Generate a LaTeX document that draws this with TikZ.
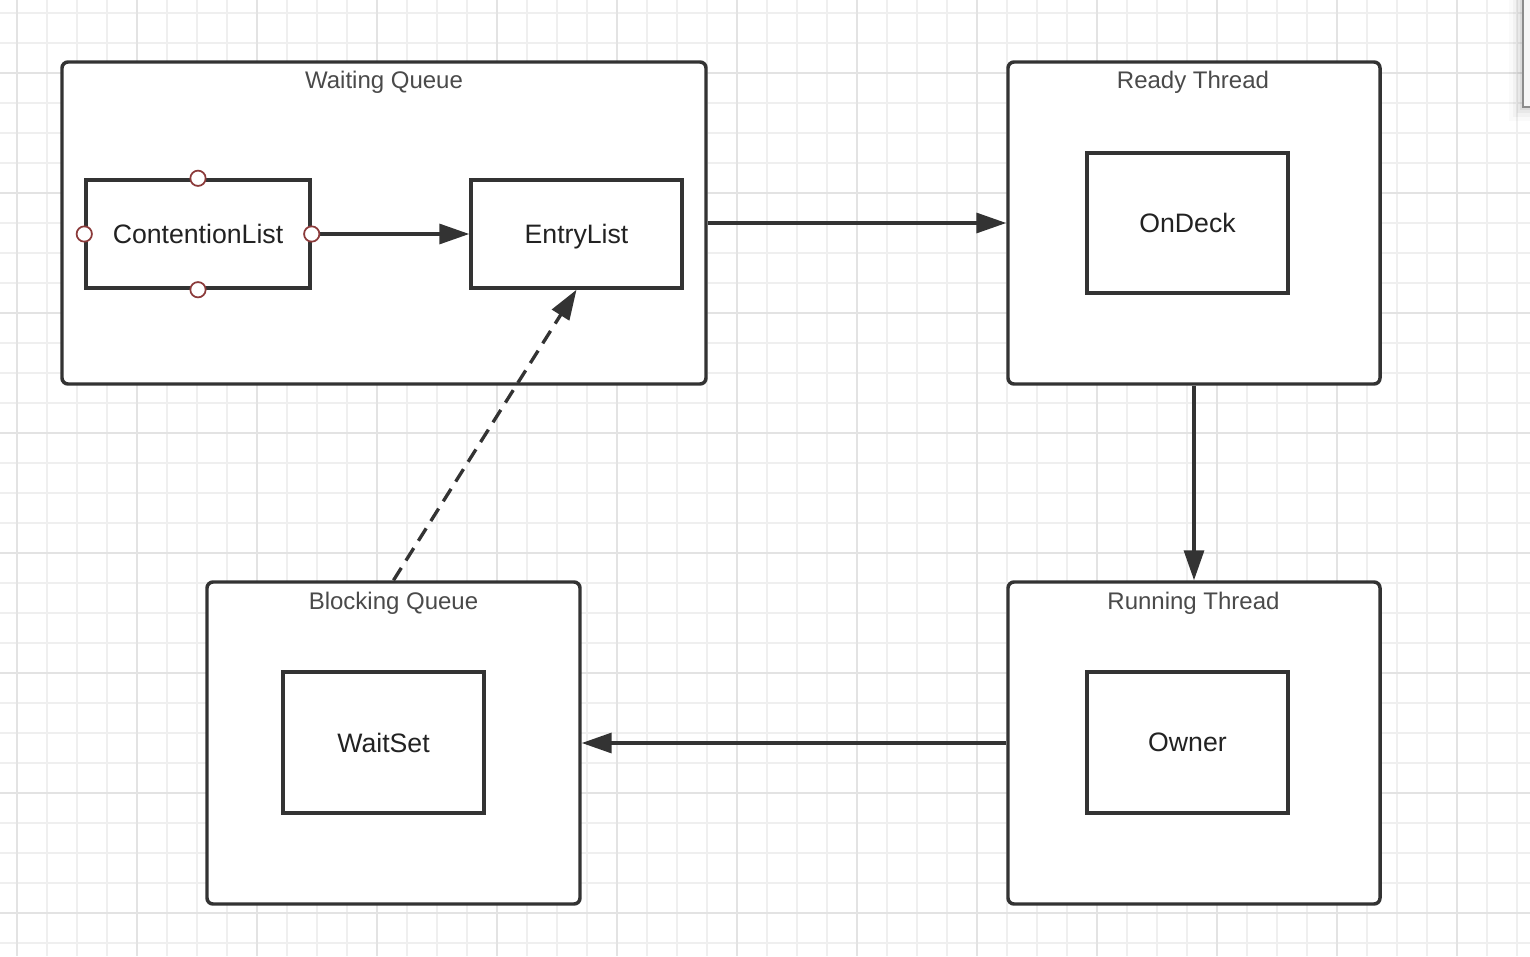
\documentclass[tikz,border=0pt]{standalone}
\usepackage{fontspec}
\setmainfont{Liberation Sans}
\usetikzlibrary{arrows.meta}
\definecolor{strokec}{HTML}{333333}
\definecolor{titlec}{HTML}{4A4A4A}
\definecolor{labelc}{HTML}{222222}
\definecolor{portc}{HTML}{8B3A3A}
\definecolor{gridminor}{HTML}{EFEFEF}
\definecolor{gridmajor}{HTML}{E3E3E3}
\def\u{0.75pt}
\tikzset{
  outerbox/.style={draw=strokec, line width=2.6pt, rounded corners=4.5pt, fill=white, inner sep=0pt},
  innerbox/.style={draw=strokec, line width=2.6pt, fill=white, inner sep=0pt, text=labelc,
    font=\fontsize{20}{24}\selectfont, text depth=0pt},
  titletext/.style={font=\fontsize{18}{22}\selectfont, text=titlec, inner sep=0pt, anchor=base},
  arr/.style={draw=strokec, line width=2.5pt, -{Triangle[length=22.5pt,width=15pt]}},
  dasharr/.style={arr, dash pattern=on 11pt off 6.5pt},
  port/.style={circle, draw=portc, fill=white, line width=1.3pt, minimum size=11.5pt, inner sep=0pt},
}
\begin{document}
\begin{tikzpicture}[x=0.75pt,y=-0.75pt]
\useasboundingbox (0,0) rectangle (1530,956);
\fill[white] (0,0) rectangle (1530,956);
% grid
\begin{scope}
\clip (0,0) rectangle (1530,956);
\foreach \x in {17,47,...,1530} \draw[gridminor, line width=1.3pt] (\x,0) -- (\x,956);
\foreach \y in {13,43,...,956} \draw[gridminor, line width=1.3pt] (0,\y) -- (1530,\y);
\foreach \x in {17,137,...,1530} \draw[gridmajor, line width=1.3pt] (\x,0) -- (\x,956);
\foreach \y in {73,193,...,956} \draw[gridmajor, line width=1.3pt] (0,\y) -- (1530,\y);
\end{scope}
% outer boxes
\node[outerbox, minimum width=644*\u, minimum height=322*\u] (wq) at (384,223) {};
\node[outerbox, minimum width=372*\u, minimum height=322*\u] (rt) at (1194,223) {};
\node[outerbox, minimum width=373*\u, minimum height=322*\u] (bq) at (393.5,743) {};
\node[outerbox, minimum width=372*\u, minimum height=322*\u] (rn) at (1194,743) {};
% titles
\node[titletext] (wqt) at (384,89) {Waiting Queue};
\node[titletext] (rtt) at (1193,89) {Ready Thread};
\node[titletext] (bqt) at (393.5,609) {Blocking Queue};
\node[titletext] (rnt) at (1193.5,609) {Running Thread};
% inner boxes
\node[innerbox, minimum width=224*\u, minimum height=108*\u] (cl) at (198,234) {ContentionList};
\node[innerbox, minimum width=211*\u, minimum height=108*\u] (el) at (576.5,234) {EntryList};
\node[innerbox, minimum width=201*\u, minimum height=140*\u] (od) at (1187.5,223) {OnDeck};
\node[innerbox, minimum width=201*\u, minimum height=141*\u] (ws) at (383.5,742.5) {WaitSet};
\node[innerbox, minimum width=201*\u, minimum height=141*\u] (ow) at (1187.5,742.5) {Owner};
% connectors
\draw[arr] (cl.east) -- (el.west);
\draw[arr] (wq.east) -- (rt.west);
\draw[arr] (rt.south) -- (rn.north);
\draw[arr] (rn.west) -- (bq.east);
\draw[dasharr] (bq.north) -- (el.south);
% ports
\node[port] (pn) at (cl.north) {};
\node[port] (pw) at (cl.west) {};
\node[port] (pe) at (cl.east) {};
\node[port] (ps) at (cl.south) {};
% panel edge at top right with shadow
\foreach \d/\o in {14/0.02,10/0.03,6/0.04,3/0.05}
  \fill[black, opacity=\o] (1523-\d,-10) rectangle (1540,107+\d);
\draw[draw=black!45, fill=black!3, line width=1.1pt] (1523,-10) rectangle (1540,107);
\end{tikzpicture}
\end{document}
